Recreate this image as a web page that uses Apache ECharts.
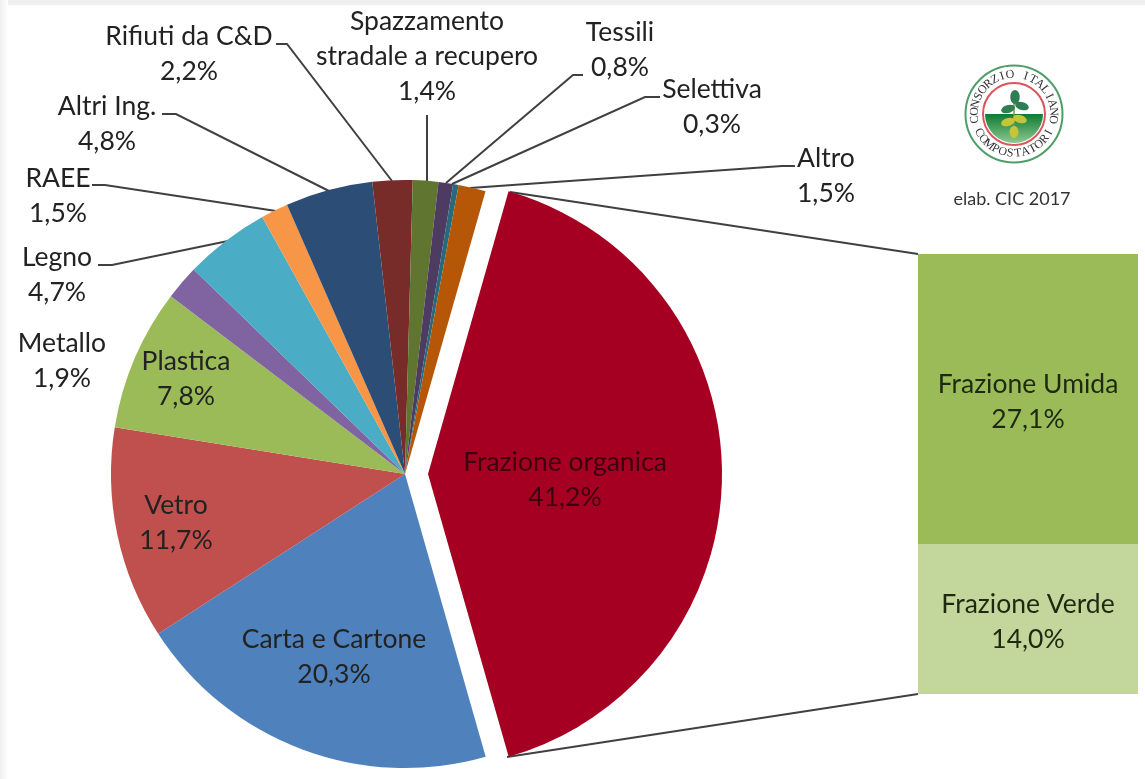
<!DOCTYPE html>
<html>
<head>
<meta charset="utf-8">
<title>Composizione rifiuti</title>
<script src="https://cdn.jsdelivr.net/npm/echarts@6/dist/echarts.min.js"></script>
<style>
  html, body { margin: 0; padding: 0; background: #fff; }
  #main { width: 1145px; height: 779px; }
</style>
</head>
<body>
<div id="main"></div>
<script>
// dati
var pieNames = ['Frazione organica', 'Carta e Cartone', 'Vetro', 'Plastica', 'Metallo', 'Legno', 'RAEE',
  'Altri Ing.', 'Rifiuti da C&D', 'Spazzamento\nstradale a recupero', 'Tessili', 'Selettiva', 'Altro'];
var pieValues = [41.2, 20.3, 11.7, 7.8, 1.9, 4.7, 1.5, 4.8, 2.2, 1.4, 0.8, 0.3, 1.5];
var barNames = ['Frazione Verde', 'Frazione Umida'];
var barValues = [14.0, 27.1];

var pieColors = ['#a50021', '#4f81bd', '#c0504d', '#9bbb59', '#8064a2', '#4bacc6', '#f79646',
  '#2c4d75', '#772c2a', '#5f7530', '#4d3b62', '#276a7c', '#b65708'];
var barColors = ['#c3d69b', '#9bbb59'];
var FONT = 'Lato';
var LABEL_SIZE = 26.5;

// posizione del centro delle etichette (la fetta staccata usa position inside)
var labelPos = [null, [334, 657], [176, 523], [186, 379], [62, 361], [57, 275], [58, 196],
  [107, 124], [189, 54], [427, 56], [620, 50], [712, 107], [826, 176]];
// linee guida, null = nessuna linea
var leaderLines = [null, null, null, null, null,
  [[228, 241], [112, 265], [98, 265]],
  [[276, 211], [105, 185], [92, 185]],
  [[329, 191], [176, 114], [162, 114]],
  [[392, 181], [287, 44], [276, 44]],
  [[427, 182], [427, 150], [427, 115]],
  [[446, 183], [573, 75], [583, 75]],
  [[452, 184], [645, 97], [660, 97]],
  [[470, 188], [782, 166], [795, 166]]];

function pct(v) {
  return v.toFixed(1).replace('.', ',') + '%';
}

var pieData = pieNames.map(function (name, i) {
  var item = {
    name: name,
    value: pieValues[i],
    selected: i === 0,
    itemStyle: { color: pieColors[i] },
    labelLine: { show: !!leaderLines[i] }
  };
  if (i === 0) {
    // padding e riga vuota per spostare il testo dal punto medio della fetta
    item.label = {
      position: 'inside',
      padding: [0, 26, 0, 0],
      formatter: function (p) { return '{gap| }\n{t|' + p.name + '}\n{t|' + pct(p.value) + '}'; },
      rich: {
        gap: { fontSize: 1, lineHeight: 12, height: 12 },
        t: { fontFamily: FONT, fontSize: LABEL_SIZE, lineHeight: 35, color: '#3d0010' }
      }
    };
  }
  return item;
});

var barSeries = barNames.map(function (name, i) {
  return {
    type: 'bar',
    name: name,
    stack: 'dettaglio',
    barWidth: '100%',
    xAxisIndex: 0,
    yAxisIndex: 0,
    data: [barValues[i]],
    itemStyle: { color: barColors[i] },
    label: {
      show: true,
      position: 'inside',
      offset: [0, 3],
      formatter: function (p) { return p.seriesName + '\n' + pct(p.value); },
      fontFamily: FONT,
      fontSize: LABEL_SIZE,
      lineHeight: 35,
      color: '#1d2a10'
    }
  };
});

// logo: anello, testo curvo e foglie
var LOGO_X = 1014, LOGO_Y = 114;
var logoTop = 'CONSORZIO ITALIANO'.split('');
var logoBottom = 'COMPOSTATORI'.split('');
var leaves = [[1, -17, 4.7, 7, 0, '#2f7d52'], [-6, -5, 7, 4, 0.3, '#2f7d52'], [8, -8, 7, 4, -0.3, '#2f7d52'],
  [-6, 8, 7, 4, 0.3, '#c5c53a'], [6, 5, 7, 4, -0.3, '#c5c53a'], [0, 18, 4.5, 6, 0, '#c5c53a']];

function logoElements() {
  var els = [
    { type: 'circle', shape: { cx: LOGO_X, cy: LOGO_Y, r: 48.5 }, style: { fill: '#fff', stroke: '#4f9e68', lineWidth: 2 } },
    { type: 'circle', shape: { cx: LOGO_X, cy: LOGO_Y, r: 31 }, style: { fill: '#fff', stroke: '#d9565f', lineWidth: 2 } },
    { type: 'sector', shape: { cx: LOGO_X, cy: LOGO_Y, r: 29, startAngle: 0, endAngle: Math.PI },
      style: { fill: { type: 'linear', x: 0, y: 0, x2: 0, y2: 1, colorStops: [{ offset: 0, color: '#0f7a32' }, { offset: 1, color: '#8cc88f' }] } } },
    { type: 'line', shape: { x1: LOGO_X, y1: LOGO_Y - 12, x2: LOGO_X, y2: LOGO_Y + 14 }, style: { stroke: '#7a9a40', lineWidth: 1.5 } }
  ];
  leaves.forEach(function (l) {
    els.push({ type: 'ellipse', x: LOGO_X + l[0], y: LOGO_Y + l[1], rotation: l[4],
      shape: { cx: 0, cy: 0, rx: l[2], ry: l[3] }, style: { fill: l[5] } });
  });
  logoTop.forEach(function (ch, i) {
    var a = (-98 + i * 196 / (logoTop.length - 1)) * Math.PI / 180;
    els.push({ type: 'text', x: LOGO_X + 39.5 * Math.sin(a), y: LOGO_Y - 39.5 * Math.cos(a), rotation: -a,
      style: { text: ch, font: '12px "Liberation Serif"', fill: '#333', align: 'center', verticalAlign: 'middle' } });
  });
  logoBottom.forEach(function (ch, i) {
    var a = (-62 + i * 124 / (logoBottom.length - 1)) * Math.PI / 180;
    els.push({ type: 'text', x: LOGO_X + 39.5 * Math.sin(a), y: LOGO_Y + 39.5 * Math.cos(a), rotation: a,
      style: { text: ch, font: '12px "Liberation Serif"', fill: '#333', align: 'center', verticalAlign: 'middle' } });
  });
  return els;
}

var chart = echarts.init(document.getElementById('main'));
chart.setOption({
  animation: false,
  backgroundColor: '#fff',
  grid: { left: 918, top: 254, width: 220, height: 440 },
  xAxis: { type: 'category', show: false, data: ['Frazione organica'] },
  yAxis: { type: 'value', show: false, min: 0, max: 41.1 },
  graphic: [
    { type: 'rect', z: -1, shape: { x: 0, y: 0, width: 1145, height: 5 }, style: { fill: '#eeeeee' } },
    { type: 'rect', z: -1, shape: { x: 0, y: 0, width: 8, height: 779 },
      style: { fill: { type: 'linear', x: 0, y: 0, x2: 1, y2: 0, colorStops: [{ offset: 0, color: '#efefef' }, { offset: 1, color: '#ffffff' }] } } },
    // collegamento torta - barra
    { type: 'line', shape: { x1: 510, y1: 192, x2: 918, y2: 254 }, style: { stroke: '#404040', lineWidth: 2 } },
    { type: 'line', shape: { x1: 507, y1: 757, x2: 918, y2: 694 }, style: { stroke: '#404040', lineWidth: 2 } },
    { type: 'text', x: 1012, y: 199, style: { text: 'elab. CIC 2017', font: '18px ' + FONT, fill: '#333', align: 'center', verticalAlign: 'middle' } },
    { type: 'group', children: logoElements() }
  ],
  series: [{
    type: 'pie',
    center: [405, 474],
    radius: 294,
    startAngle: 74.1,
    selectedMode: 'multiple',
    selectedOffset: 23,
    avoidLabelOverlap: false,
    emphasis: { disabled: true },
    data: pieData,
    label: {
      show: true,
      formatter: function (p) { return p.name + '\n' + pct(p.value); },
      fontFamily: FONT,
      fontSize: LABEL_SIZE,
      lineHeight: 35,
      color: '#222',
      align: 'center',
      verticalAlign: 'middle'
    },
    labelLine: { show: true, lineStyle: { color: '#404040', width: 2 } },
    labelLayout: function (params) {
      var i = params.dataIndex;
      if (!labelPos[i]) {
        return {};
      }
      var out = { x: labelPos[i][0], y: labelPos[i][1], align: 'center', verticalAlign: 'middle' };
      if (leaderLines[i]) {
        out.labelLinePoints = leaderLines[i];
      }
      return out;
    }
  }].concat(barSeries)
});
</script>
</body>
</html>
